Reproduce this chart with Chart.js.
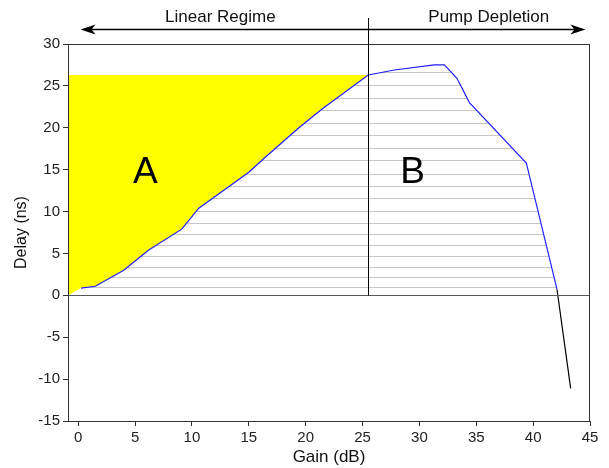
<!DOCTYPE html>
<html>
<head>
<meta charset="utf-8">
<script src="https://cdn.jsdelivr.net/npm/chart.js@4.4.0/dist/chart.umd.min.js"></script>
<style>
  html, body { margin: 0; padding: 0; background: #fff; }
  #wrap { width: 609px; height: 468px; }
</style>
</head>
<body>
<div id="wrap"><canvas id="delayChart"></canvas></div>
<script>
// Delay vs gain
const gain  = [0.24, 1.5, 4.0, 6.2, 9.1, 10.6, 15.0, 16.3, 19.4, 21.5, 25.5, 27.8, 31.3, 32.2, 33.3, 34.4, 39.4, 42.1, 43.3];
const delay = [0.87, 1.08, 3.0, 5.4, 7.9, 10.4, 14.7, 16.3, 20.0, 22.3, 26.3, 26.9, 27.5, 27.5, 25.9, 23.0, 15.8, 0.7, -11.1];

const xTicks = [0, 5, 10, 15, 20, 25, 30, 35, 40, 45];
const yTicks = [-15, -10, -5, 0, 5, 10, 15, 20, 25, 30];
const xMin = -0.9, xMax = 45, yMin = -15, yMax = 30;

// regimes / regions
const regimeBoundary = 25.5;   // dB
const saturationDelay = 26.3;  // ns, top of region A
const regimeNames = ["Linear Regime", "Pump Depletion"];
const regimeNameX = [12.5, 36.1];
const arrowEnds = [0.2, 44.6];
const regionNames = ["A", "B"];
const regionX = [5.9, 29.4];
const regionY = [14.8, 14.8];

// levels of the grey hatch under the curve
const hatchLevels = [1.0, 2.2, 3.4, 4.7, 6.0, 7.3, 8.6, 10.1, 11.6, 13.0, 14.5, 16.1, 17.6, 19.1, 20.6, 22.1, 23.6, 25.1, 26.6];

const FONT = "'Liberation Sans', Arial, sans-serif";

const curvePts = gain.map((g, i) => ({ x: g, y: delay[i] }));
const linearPts = curvePts.filter((p) => p.x <= regimeBoundary).reverse();
const regionA = [{ x: xMin, y: saturationDelay }, { x: regimeBoundary, y: saturationDelay }, ...linearPts, { x: xMin, y: 0 }];

// grey horizontal hatch, clipped to the area under the curve and above 0
const hatchPlugin = {
  id: "hatch",
  beforeDatasetsDraw(chart) {
    const { ctx, chartArea, scales } = chart;
    const pts = chart.getDatasetMeta(0).data;
    const y0 = scales.y.getPixelForValue(0);
    ctx.save();
    ctx.beginPath();
    ctx.rect(chartArea.left, chartArea.top, chartArea.width, y0 - chartArea.top);
    ctx.clip();
    ctx.beginPath();
    ctx.moveTo(pts[0].x, y0);
    pts.forEach((p) => ctx.lineTo(p.x, p.y));
    ctx.lineTo(pts[pts.length - 1].x, y0);
    ctx.closePath();
    ctx.clip();
    ctx.strokeStyle = "#c6c6c6";
    ctx.lineWidth = 1;
    hatchLevels.forEach((v) => {
      const py = Math.round(scales.y.getPixelForValue(v)) + 0.5;
      ctx.beginPath();
      ctx.moveTo(chartArea.left, py);
      ctx.lineTo(chartArea.right, py);
      ctx.stroke();
    });
    ctx.restore();
  },
};

// frame, zero line, regime divider, arrows and labels
const annotPlugin = {
  id: "annot",
  afterDatasetsDraw(chart) {
    const { ctx, chartArea, scales } = chart;
    const { x, y } = scales;
    const y0 = Math.round(y.getPixelForValue(0)) + 0.5;
    ctx.save();

    ctx.strokeStyle = "#5a5a5a";
    ctx.lineWidth = 1;
    ctx.beginPath();
    ctx.moveTo(chartArea.left, y0);
    ctx.lineTo(chartArea.right, y0);
    ctx.stroke();

    ctx.strokeStyle = "#333";
    ctx.strokeRect(chartArea.left + 0.5, chartArea.top + 0.5, chartArea.width - 1, chartArea.height);

    // regime divider
    const xb = Math.round(x.getPixelForValue(regimeBoundary)) + 0.5;
    ctx.strokeStyle = "#000";
    ctx.beginPath();
    ctx.moveTo(xb, y0);
    ctx.lineTo(xb, chartArea.top - 26);
    ctx.stroke();

    // double arrow
    const ay = chartArea.top - 14.5;
    const ax0 = x.getPixelForValue(arrowEnds[0]);
    const ax1 = x.getPixelForValue(arrowEnds[1]);
    ctx.lineWidth = 1.5;
    ctx.beginPath();
    ctx.moveTo(ax0 + 8, ay);
    ctx.lineTo(ax1 - 8, ay);
    ctx.stroke();
    ctx.fillStyle = "#000";
    [[ax0, 1], [ax1, -1]].forEach(([tx, d]) => {
      ctx.beginPath();
      ctx.moveTo(tx, ay);
      ctx.lineTo(tx + d * 15, ay - 5);
      ctx.lineTo(tx + d * 11, ay);
      ctx.lineTo(tx + d * 15, ay + 5);
      ctx.closePath();
      ctx.fill();
    });

    ctx.fillStyle = "#111";
    ctx.textAlign = "center";
    ctx.textBaseline = "middle";
    ctx.font = "17px " + FONT;
    regimeNames.forEach((t, i) => ctx.fillText(t, x.getPixelForValue(regimeNameX[i]), chartArea.top - 27));

    ctx.fillStyle = "#000";
    ctx.font = "37px " + FONT;
    regionNames.forEach((t, i) => ctx.fillText(t, x.getPixelForValue(regionX[i]), y.getPixelForValue(regionY[i]) + 1));
    ctx.restore();
  },
};

new Chart(document.getElementById("delayChart"), {
  type: "scatter",
  data: {
    datasets: [
      {
        label: "Delay",
        data: curvePts,
        showLine: true,
        borderWidth: 1.2,
        pointRadius: 0,
        tension: 0,
        borderColor: "#1f1fff",
        segment: { borderColor: (c) => (c.p1.parsed.y < 0 ? "#000" : "#1f1fff") },
      },
      {
        label: "Region A",
        data: regionA,
        showLine: true,
        borderWidth: 0,
        pointRadius: 0,
        backgroundColor: "#ffff00",
        fill: "shape",
      },
    ],
  },
  options: {
    responsive: true,
    maintainAspectRatio: false,
    animation: false,
    layout: { padding: { top: 44, right: 19, left: 0, bottom: 0 } },
    plugins: { legend: { display: false }, tooltip: { enabled: false } },
    scales: {
      x: {
        type: "linear",
        min: xMin,
        max: xMax,
        afterBuildTicks: (s) => { s.ticks = xTicks.map((v) => ({ value: v })); },
        afterFit: (s) => { s.height = 47; },
        grid: { drawOnChartArea: false, drawTicks: true, tickLength: 5, color: "#333" },
        border: { color: "#333" },
        ticks: { color: "#222", font: { family: FONT, size: 15 }, padding: 3, maxRotation: 0 },
        title: { display: true, text: "Gain (dB)", color: "#111", font: { family: FONT, size: 17 }, padding: { top: 0, bottom: 0 } },
      },
      y: {
        type: "linear",
        min: yMin,
        max: yMax,
        afterBuildTicks: (s) => { s.ticks = yTicks.map((v) => ({ value: v })); },
        afterFit: (s) => { s.width = 68; },
        grid: { drawOnChartArea: false, drawTicks: true, tickLength: 5, color: "#333" },
        border: { color: "#333" },
        ticks: { color: "#222", font: { family: FONT, size: 15 }, padding: 3 },
        title: { display: true, text: "Delay (ns)", color: "#111", font: { family: FONT, size: 16 }, padding: { top: 12, bottom: 0 } },
      },
    },
  },
  plugins: [hatchPlugin, annotPlugin],
});
</script>
</body>
</html>
